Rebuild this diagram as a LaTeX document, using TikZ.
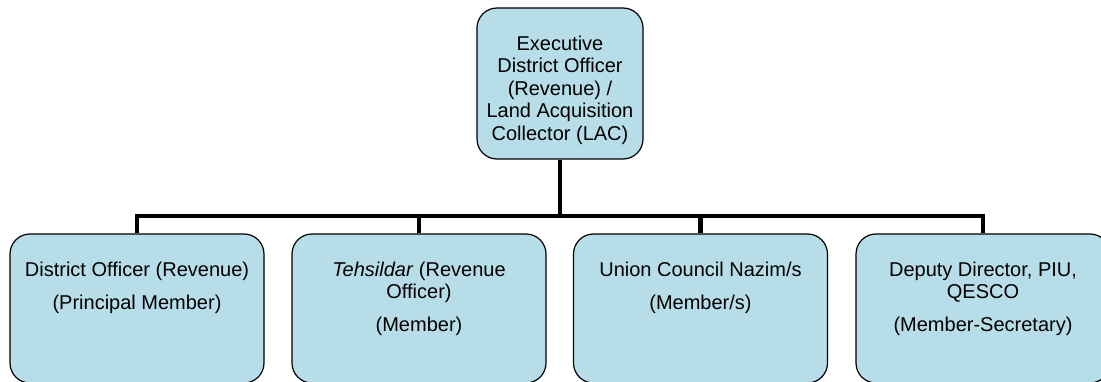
\documentclass[tikz,border=0pt]{standalone}
\usepackage{fontspec}
\setmainfont{Liberation Sans}

\definecolor{boxfill}{HTML}{B7DEE8}

% text block of a box: fixed height, set from the top
\newcommand{\cell}[3]{\parbox[c][#2][t]{#1}{\centering #3}}

\tikzset{
  office/.style={draw=black, line width=1.2pt, fill=boxfill, rounded corners=20pt,
    inner xsep=5pt, inner ysep=28pt, font=\fontsize{20}{22.5}\selectfont},
  wire/.style={line width=4.5pt}
}

\begin{document}
\begin{tikzpicture}[x=1pt,y=1pt]
  \clip (0,0) rectangle (1101,381);
  \node[office] (edo) at (560,297.5) {\cell{156pt}{95pt}{Executive\\District Officer\\(Revenue) /\\Land Acquisition\\Collector (LAC)}};
  \node[office] (dor) at (137,72.5) {\cell{244pt}{93pt}{District Officer (Revenue)\\[10.5pt](Principal Member)}};
  \node[office] (teh) at (419,72.5) {\cell{244pt}{93pt}{\textit{Tehsildar} (Revenue\\Officer)\\[10.5pt](Member)}};
  \node[office] (ucn) at (700.5,72.5) {\cell{244pt}{93pt}{Union Council Nazim/s\\[10.5pt](Member/s)}};
  \node[office] (dd) at (983,72.5) {\cell{244pt}{93pt}{Deputy Director, PIU,\\QESCO\\[10.5pt](Member-Secretary)}};
  \coordinate (bus) at (560,165);
  \draw[wire] (edo) -- (bus);
  \draw[wire] (dor) |- (bus) -| (dd);
  \draw[wire] (teh) -- (teh |- bus)
  (ucn) -- (ucn |- bus);
\end{tikzpicture}
\end{document}
